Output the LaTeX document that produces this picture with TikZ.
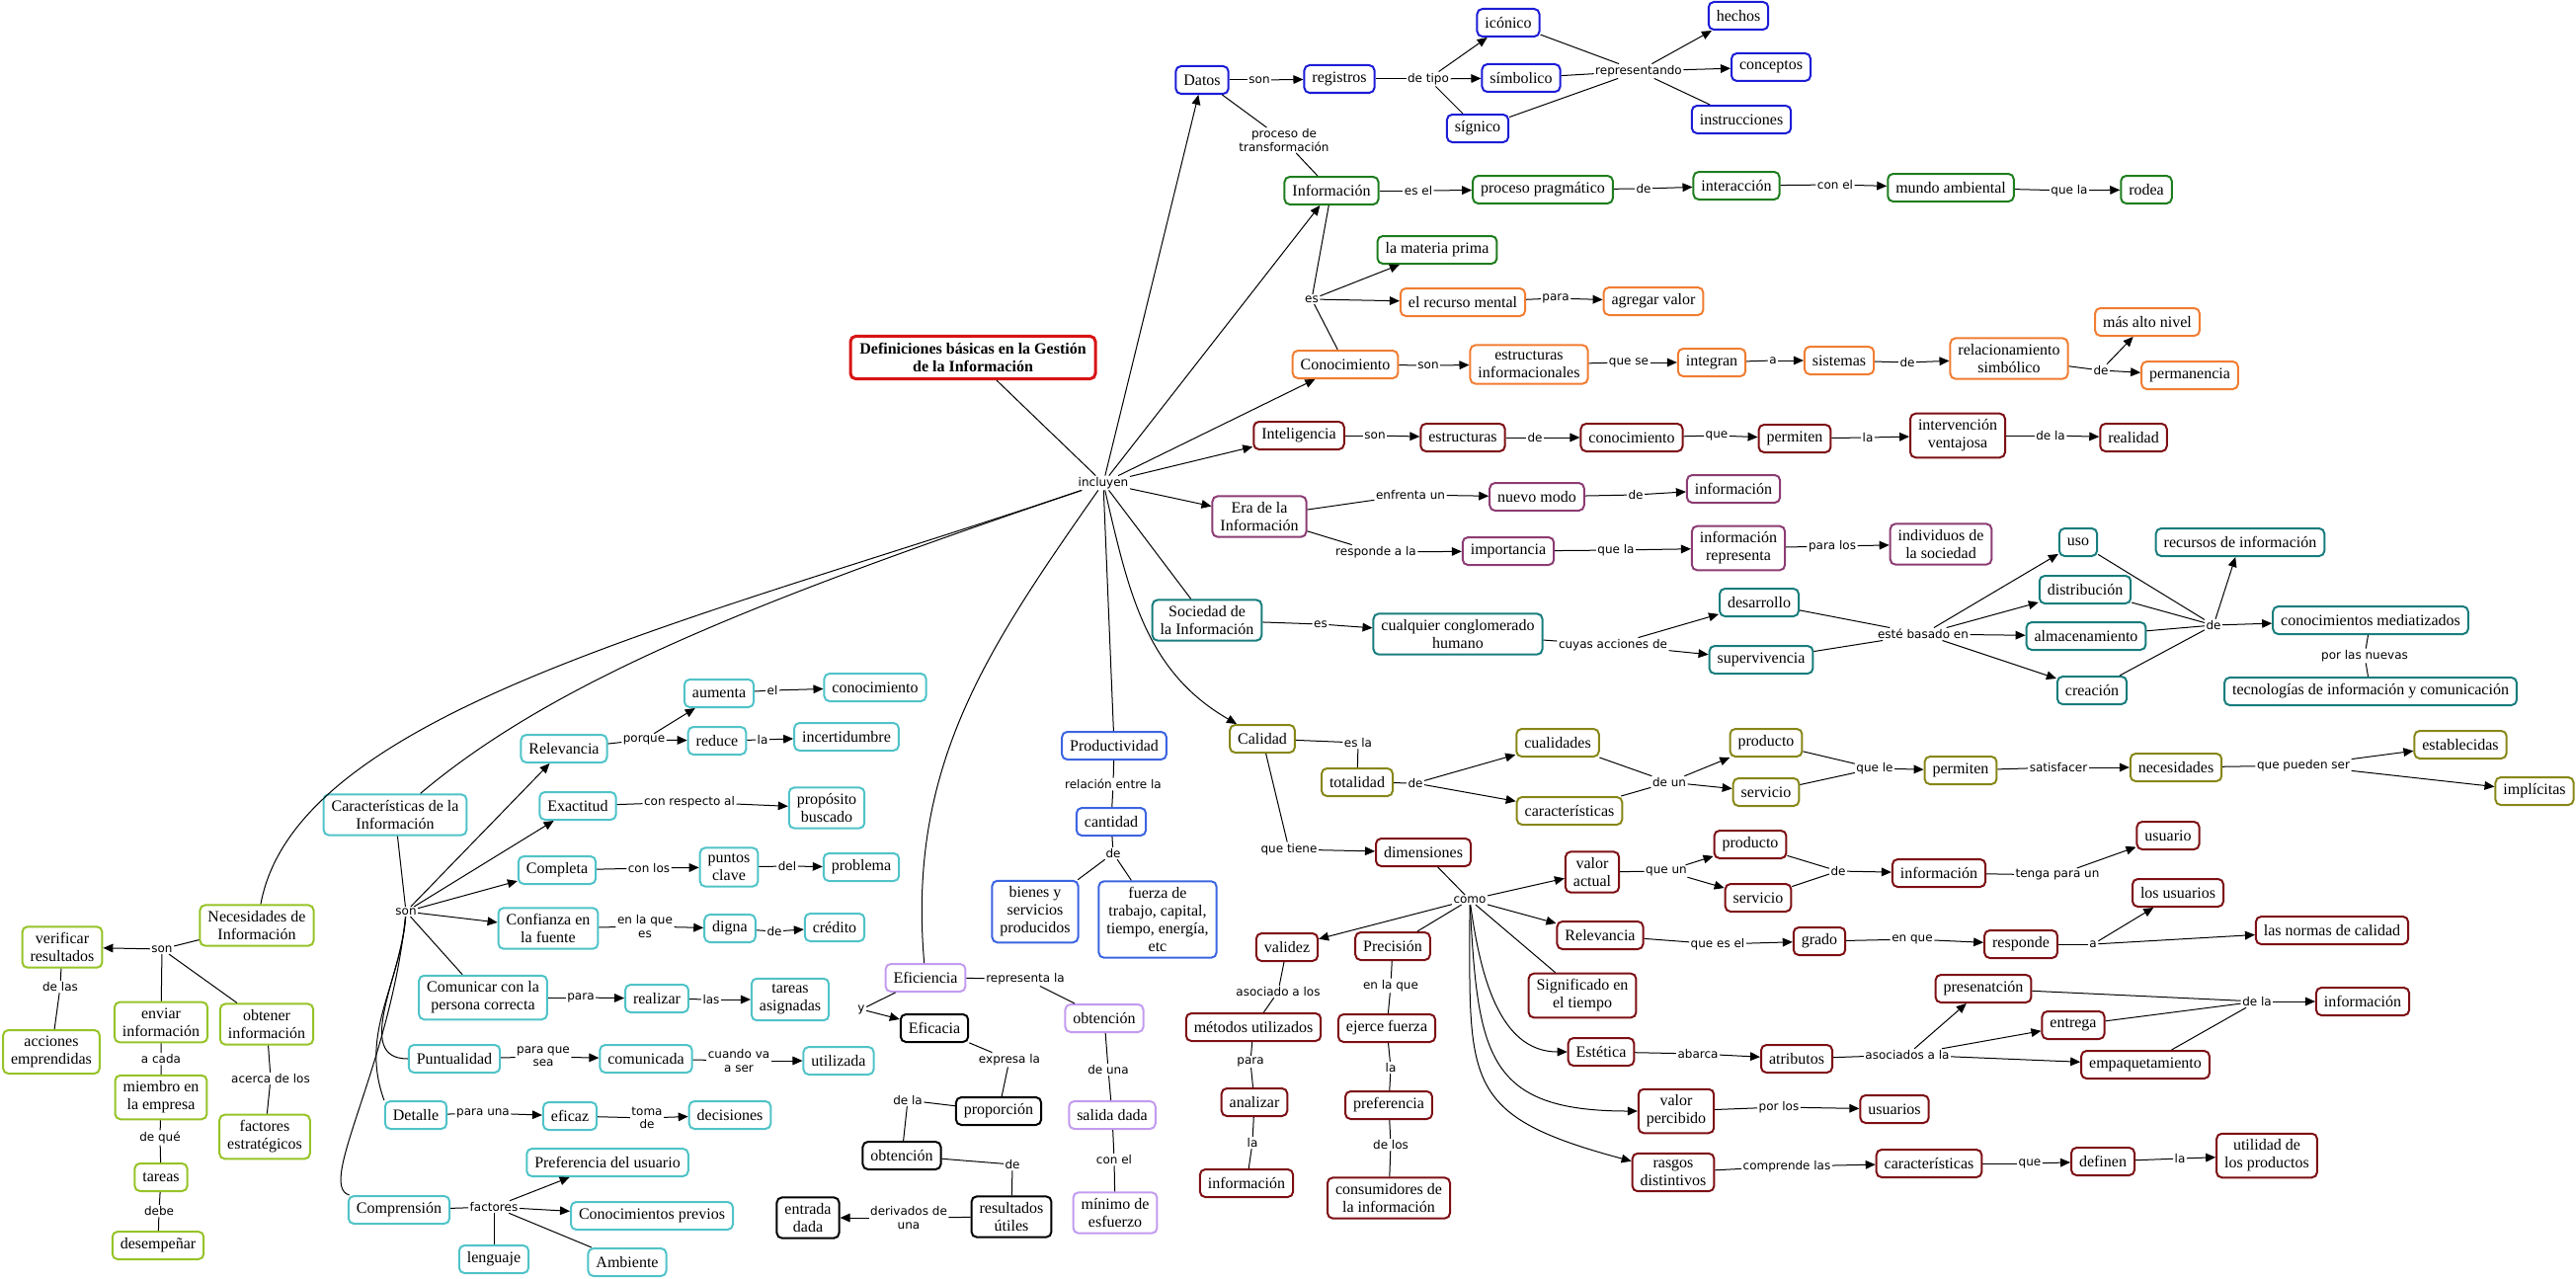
\documentclass[tikz,border=0pt]{standalone}
\usepackage{fontspec}
\setmainfont{Liberation Serif}
\newfontfamily\linkfont{DejaVu Sans}
\usepackage{xcolor}
\usepackage{tikz}
\usetikzlibrary{arrows.meta}

\definecolor{cTitle}{RGB}{215,20,20}
\definecolor{cBlue}{RGB}{28,28,214}
\definecolor{cGreen}{RGB}{30,125,30}
\definecolor{cOrange}{RGB}{240,125,50}
\definecolor{cMaroon}{RGB}{125,15,20}
\definecolor{cPlum}{RGB}{140,60,115}
\definecolor{cTeal}{RGB}{25,125,125}
\definecolor{cOlive}{RGB}{135,135,25}
\definecolor{cCyan}{RGB}{80,195,200}
\definecolor{cLime}{RGB}{150,195,40}
\definecolor{cRoyal}{RGB}{60,100,225}
\definecolor{cLav}{RGB}{195,155,240}

\begin{document}
\begin{tikzpicture}[x=0.75pt, y=-0.75pt,
  cmap/.style={draw=#1, line width=1.5pt, rounded corners=4pt, align=center,
    inner xsep=6pt, inner ysep=4.5pt, minimum height=21pt, font=\fontsize{12}{13.5}\selectfont},
  lnk/.style={inner sep=1pt, align=center, font=\linkfont\fontsize{9}{10}\selectfont},
  lin/.style={line width=0.75pt},
  arr/.style={line width=0.75pt, -{Triangle[length=7.5pt,width=6.5pt]}}]
  \useasboundingbox (0,0) rectangle (2608,1295);

  \node[cmap=cTitle, line width=2.25pt, inner xsep=7pt, inner ysep=5pt,
    font=\bfseries\fontsize{12}{13.75}\selectfont] (titulo) at (985,362)
    {Definiciones básicas en la Gestión\\de la Información};
  \node[lnk] (incluyen) at (1117,489) {incluyen};

  \node[cmap=cBlue] (datos) at (1217,81) {Datos};
  \node[lnk] (dSon) at (1275,81) {son};
  \node[cmap=cBlue] (registros) at (1356,80) {registros};
  \node[lnk] (dTipo) at (1446,80) {de tipo};
  \node[cmap=cBlue] (iconico) at (1527,23) {icónico};
  \node[cmap=cBlue] (simbolico) at (1540,79) {símbolico};
  \node[cmap=cBlue] (signico) at (1496,130) {sígnico};
  \node[lnk] (dRepr) at (1659,72) {representando};
  \node[cmap=cBlue] (hechos) at (1760,16) {hechos};
  \node[cmap=cBlue] (conceptos) at (1793,68) {conceptos};
  \node[cmap=cBlue] (instruc) at (1763,121) {instrucciones};
  \node[lnk] (dProc) at (1300,142) {proceso de\\transformación};

  \node[cmap=cGreen] (informacion) at (1348,193) {Información};
  \node[lnk] (iEsEl) at (1436,193) {es el};
  \node[cmap=cGreen] (pragmatico) at (1562,192) {proceso pragmático};
  \node[lnk] (iDe) at (1664,191) {de};
  \node[cmap=cGreen] (interaccion) at (1758,188) {interacción};
  \node[lnk] (iConEl) at (1858,187) {con el};
  \node[cmap=cGreen] (mundo) at (1975,190) {mundo ambiental};
  \node[lnk] (iQueLa) at (2095,193) {que la};
  \node[cmap=cGreen] (rodea) at (2173,192) {rodea};
  \node[cmap=cGreen] (materia) at (1455,253) {la materia prima};

  \node[lnk] (cEs) at (1328,303) {es};
  \node[cmap=cOrange] (recurso) at (1481,306) {el recurso mental};
  \node[lnk] (cPara) at (1575,302) {para};
  \node[cmap=cOrange] (agregar) at (1674,305) {agregar valor};
  \node[cmap=cOrange] (conocimiento) at (1362,369) {Conocimiento};
  \node[lnk] (cSon) at (1446,370) {son};
  \node[cmap=cOrange] (estinf) at (1548,369) {estructuras\\informacionales};
  \node[lnk] (cQueSe) at (1649,367) {que se};
  \node[cmap=cOrange] (integran) at (1733,367) {integran};
  \node[lnk] (cA) at (1795,365) {a};
  \node[cmap=cOrange] (sistemas) at (1862,365) {sistemas};
  \node[lnk] (cDe) at (1931,367) {de};
  \node[cmap=cOrange] (relacion) at (2034,363) {relacionamiento\\simbólico};
  \node[lnk] (cDe2) at (2127,375) {de};
  \node[cmap=cOrange] (altonivel) at (2174,326) {más alto nivel};
  \node[cmap=cOrange] (permanencia) at (2217,380) {permanencia};

  \node[cmap=cMaroon] (inteligencia) at (1315,441) {Inteligencia};
  \node[lnk] (tSon) at (1392,441) {son};
  \node[cmap=cMaroon] (estructuras) at (1481,443) {estructuras};
  \node[lnk] (tDe) at (1554,443) {de};
  \node[cmap=cMaroon] (conoc2) at (1652,443) {conocimiento};
  \node[lnk] (tQue) at (1738,441) {que};
  \node[cmap=cMaroon] (permiten) at (1817,444) {permiten};
  \node[lnk] (tLa) at (1891,443) {la};
  \node[cmap=cMaroon] (intervencion) at (1982,441) {intervención\\ventajosa};
  \node[lnk] (tDeLa) at (2076,441) {de la};
  \node[cmap=cMaroon] (realidad) at (2160,443) {realidad};

  \node[cmap=cPlum] (era) at (1275,523) {Era de la\\Información};
  \node[lnk] (eEnfr) at (1428,501) {enfrenta un};
  \node[cmap=cPlum] (nuevo) at (1556,503) {nuevo modo};
  \node[lnk] (eDe) at (1656,501) {de};
  \node[cmap=cPlum] (info2) at (1755,495) {información};
  \node[lnk] (eResp) at (1393,559) {responde a la};
  \node[cmap=cPlum] (importancia) at (1527,558) {importancia};
  \node[lnk] (eQueLa) at (1636,557) {que la};
  \node[cmap=cPlum] (inforep) at (1760,555) {información\\representa};
  \node[lnk] (eParaLos) at (1855,553) {para los};
  \node[cmap=cPlum] (individuos) at (1965,551) {individuos de\\la sociedad};

  \node[cmap=cTeal] (sociedad) at (1222,628) {Sociedad de\\la Información};
  \node[lnk] (sEs) at (1337,632) {es};
  \node[cmap=cTeal] (conglomerado) at (1476,642) {cualquier conglomerado\\humano};
  \node[lnk] (sCuyas) at (1633,653) {cuyas acciones de};
  \node[cmap=cTeal] (desarrollo) at (1781,610) {desarrollo};
  \node[cmap=cTeal] (supervivencia) at (1783,668) {supervivencia};
  \node[lnk] (sBasado) at (1947,642) {esté basado en};
  \node[cmap=cTeal] (uso) at (2104,549) {uso};
  \node[cmap=cTeal] (distribucion) at (2111,597) {distribución};
  \node[cmap=cTeal] (almacen) at (2112,644) {almacenamiento};
  \node[cmap=cTeal] (creacion) at (2118,699) {creación};
  \node[lnk] (sDe) at (2241,633) {de};
  \node[cmap=cTeal] (recursos) at (2268,549) {recursos de información};
  \node[cmap=cTeal] (mediatizados) at (2400,628) {conocimientos mediatizados};
  \node[lnk] (sPorLas) at (2394,664) {por las nuevas};
  \node[cmap=cTeal] (tic) at (2400,700) {tecnologías de información y comunicación};

  \node[cmap=cOlive] (calidad) at (1278,748) {Calidad};
  \node[lnk] (qEsLa) at (1375,752) {es la};
  \node[cmap=cOlive] (totalidad) at (1374,792) {totalidad};
  \node[lnk] (qDe) at (1433,793) {de};
  \node[cmap=cOlive] (cualidades) at (1577,752) {cualidades};
  \node[cmap=cOlive] (caracter) at (1589,821) {características};
  \node[lnk] (qDeUn) at (1690,792) {de un};
  \node[cmap=cOlive] (productoQ) at (1788,752) {producto};
  \node[cmap=cOlive] (servicioQ) at (1788,802) {servicio};
  \node[lnk] (qQueLe) at (1898,778) {que le};
  \node[cmap=cOlive] (permitenQ) at (1985,780) {permiten};
  \node[lnk] (qSatis) at (2084,777) {satisfacer};
  \node[cmap=cOlive] (necesidades) at (2203,777) {necesidades};
  \node[lnk] (qPueden) at (2332,775) {que pueden ser};
  \node[cmap=cOlive] (establecidas) at (2491,754) {establecidas};
  \node[cmap=cOlive] (implicitas) at (2566,801) {implícitas};

  \node[lnk] (qQueTiene) at (1305,860) {que tiene};
  \node[cmap=cMaroon] (dimensiones) at (1441,863) {dimensiones};
  \node[lnk] (mComo) at (1488,911) {como};
  \node[cmap=cMaroon] (valactual) at (1612,883) {valor\\actual};
  \node[lnk] (mQueUn) at (1687,882) {que un};
  \node[cmap=cMaroon] (productoM) at (1772,855) {producto};
  \node[cmap=cMaroon] (servicioM) at (1780,909) {servicio};
  \node[lnk] (mDe) at (1861,882) {de};
  \node[cmap=cMaroon] (info3) at (1963,884) {información};
  \node[lnk] (mTenga) at (2083,886) {tenga para un};
  \node[cmap=cMaroon] (usuario) at (2195,846) {usuario};
  \node[cmap=cMaroon] (relevM) at (1620,947) {Relevancia};
  \node[lnk] (mQueEs) at (1739,956) {que es el};
  \node[cmap=cMaroon] (grado) at (1842,953) {grado};
  \node[lnk] (mEnQue) at (1936,951) {en que};
  \node[cmap=cMaroon] (responde) at (2046,956) {responde};
  \node[lnk] (mA) at (2119,956) {a};
  \node[cmap=cMaroon] (losusuarios) at (2205,904) {los usuarios};
  \node[cmap=cMaroon] (normas) at (2361,942) {las normas de calidad};
  \node[cmap=cMaroon] (significado) at (1602,1008) {Significado en\\el tiempo};
  \node[cmap=cMaroon] (validez) at (1303,959) {validez};
  \node[cmap=cMaroon] (precision) at (1410,958) {Precisión};
  \node[lnk] (mAsoc) at (1294,1004) {asociado a los};
  \node[cmap=cMaroon] (metodos) at (1269,1040) {métodos utilizados};
  \node[lnk] (mEnLaQue) at (1408,998) {en la que};
  \node[cmap=cMaroon] (ejerce) at (1404,1041) {ejerce fuerza};
  \node[cmap=cMaroon] (estetica) at (1621,1065) {Estética};
  \node[lnk] (mAbarca) at (1719,1067) {abarca};
  \node[cmap=cMaroon] (atributos) at (1819,1072) {atributos};
  \node[lnk] (mAsocLa) at (1931,1068) {asociados a la};
  \node[cmap=cMaroon] (presentacion) at (2008,1001) {presenatción};
  \node[lnk] (mDeLa) at (2285,1014) {de la};
  \node[cmap=cMaroon] (info4) at (2392,1014) {información};
  \node[cmap=cMaroon] (entrega) at (2099,1038) {entrega};
  \node[cmap=cMaroon] (empaque) at (2172,1078) {empaquetamiento};
  \node[lnk] (mPara) at (1266,1075) {para};
  \node[lnk] (mLa) at (1408,1081) {la};
  \node[cmap=cMaroon] (analizar) at (1270,1116) {analizar};
  \node[cmap=cMaroon] (preferencia) at (1406,1119) {preferencia};
  \node[cmap=cMaroon] (valpercibido) at (1697,1125) {valor\\percibido};
  \node[lnk] (mPorLos) at (1801,1121) {por los};
  \node[cmap=cMaroon] (usuarios) at (1918,1123) {usuarios};
  \node[lnk] (mLa2) at (1268,1157) {la};
  \node[lnk] (mDeLos) at (1408,1159) {de los};
  \node[cmap=cMaroon] (info5) at (1262,1198) {información};
  \node[cmap=cMaroon] (consumidores) at (1406,1213) {consumidores de\\la información};
  \node[cmap=cMaroon] (rasgos) at (1694,1187) {rasgos\\distintivos};
  \node[lnk] (mCompr) at (1809,1181) {comprende las};
  \node[cmap=cMaroon] (caract2) at (1953,1178) {características};
  \node[lnk] (mQue) at (2055,1178) {que};
  \node[cmap=cMaroon] (definen) at (2129,1176) {definen};
  \node[lnk] (mLa3) at (2207,1173) {la};
  \node[cmap=cMaroon] (utilidad) at (2295,1170) {utilidad de\\los productos};

  \node[cmap=cCyan] (caracinfo) at (400,825) {Características de la\\Información};
  \node[lnk] (kSon) at (411,923) {son};
  \node[cmap=cCyan] (relevK) at (571,758) {Relevancia};
  \node[lnk] (kPorque) at (652,749) {porque};
  \node[cmap=cCyan] (aumenta) at (728,702) {aumenta};
  \node[lnk] (kEl) at (782,699) {el};
  \node[cmap=cCyan] (conoc3) at (886,696) {conocimiento};
  \node[cmap=cCyan] (reduce) at (726,750) {reduce};
  \node[lnk] (kLa) at (772,749) {la};
  \node[cmap=cCyan] (incert) at (857,746) {incertidumbre};
  \node[cmap=cCyan] (exactitud) at (585,816) {Exactitud};
  \node[lnk] (kConResp) at (698,812) {con respecto al};
  \node[cmap=cCyan] (proposito) at (837,818) {propósito\\buscado};
  \node[cmap=cCyan] (completa) at (564,881) {Completa};
  \node[lnk] (kConLos) at (657,879) {con los};
  \node[cmap=cCyan] (puntos) at (738,878) {puntos\\clave};
  \node[lnk] (kDel) at (797,877) {del};
  \node[cmap=cCyan] (problema) at (872,878) {problema};
  \node[cmap=cCyan] (confianza) at (555,940) {Confianza en\\la fuente};
  \node[lnk] (kEnLaQue) at (653,938) {en la que\\es};
  \node[cmap=cCyan] (digna) at (739,940) {digna};
  \node[lnk] (kDe) at (784,943) {de};
  \node[cmap=cCyan] (credito) at (845,939) {crédito};
  \node[cmap=cCyan] (comunicar) at (489,1010) {Comunicar con la\\persona correcta};
  \node[lnk] (kPara) at (588,1010) {para};
  \node[cmap=cCyan] (realizar) at (665,1011) {realizar};
  \node[lnk] (kLas) at (720,1012) {las};
  \node[cmap=cCyan] (tareasasig) at (800,1012) {tareas\\asignadas};
  \node[cmap=cCyan] (puntualidad) at (460,1072) {Puntualidad};
  \node[lnk] (kParaQue) at (550,1070) {para que\\sea};
  \node[cmap=cCyan] (comunicada) at (654,1072) {comunicada};
  \node[lnk] (kCuando) at (748,1074) {cuando va\\a ser};
  \node[cmap=cCyan] (utilizada) at (849,1074) {utilizada};
  \node[cmap=cCyan] (detalle) at (421,1129) {Detalle};
  \node[lnk] (kParaUna) at (489,1127) {para una};
  \node[cmap=cCyan] (eficaz) at (577,1130) {eficaz};
  \node[lnk] (kToma) at (655,1132) {toma\\de};
  \node[cmap=cCyan] (decisiones) at (739,1129) {decisiones};
  \node[cmap=cCyan] (prefusuario) at (615,1177) {Preferencia del usuario};
  \node[cmap=cCyan] (comprension) at (404,1225) {Comprensión};
  \node[lnk] (kFactores) at (500,1222) {factores};
  \node[cmap=cCyan] (conprevios) at (660,1231) {Conocimientos previos};
  \node[cmap=cCyan] (lenguaje) at (500,1275) {lenguaje};
  \node[cmap=cCyan] (ambiente) at (635,1278) {Ambiente};

  \node[cmap=cLime] (necinfo) at (260,937) {Necesidades de\\Información};
  \node[lnk] (nSon) at (164,961) {son};
  \node[cmap=cLime] (verificar) at (63,959) {verificar\\resultados};
  \node[lnk] (nDeLas) at (61,999) {de las};
  \node[cmap=cLime] (acciones) at (52,1065) {acciones\\emprendidas};
  \node[cmap=cLime] (enviar) at (163,1035) {enviar\\información};
  \node[cmap=cLime] (obtener) at (270,1037) {obtener\\información};
  \node[lnk] (nACada) at (163,1072) {a cada};
  \node[cmap=cLime] (miembro) at (163,1111) {miembro en\\la empresa};
  \node[lnk] (nAcerca) at (274,1092) {acerca de los};
  \node[cmap=cLime] (factores) at (268,1151) {factores\\estratégicos};
  \node[lnk] (nDeQue) at (162,1152) {de qué};
  \node[cmap=cLime] (tareas) at (163,1192) {tareas};
  \node[lnk] (nDebe) at (161,1226) {debe};
  \node[cmap=cLime] (desempenar) at (160,1261) {desempeñar};

  \node[cmap=cRoyal] (productividad) at (1128,755) {Productividad};
  \node[lnk] (pRelacion) at (1127,794) {relación entre la};
  \node[cmap=cRoyal] (cantidad) at (1125,832) {cantidad};
  \node[lnk] (pDe) at (1127,864) {de};
  \node[cmap=cRoyal] (bienes) at (1048,923) {bienes y\\servicios\\producidos};
  \node[cmap=cRoyal] (fuerza) at (1172,931) {fuerza de\\trabajo, capital,\\tiempo, energía,\\etc};

  \node[cmap=cLav] (eficiencia) at (937,990) {Eficiencia};
  \node[lnk] (fRepresenta) at (1038,991) {representa la};
  \node[cmap=cLav] (obtencion) at (1118,1031) {obtención};
  \node[lnk] (fDeUna) at (1122,1083) {de una};
  \node[cmap=cLav] (salida) at (1126,1129) {salida dada};
  \node[lnk] (fConEl) at (1128,1174) {con el};
  \node[cmap=cLav] (minimo) at (1129,1228) {mínimo de\\esfuerzo};
  \node[lnk] (fY) at (872,1022) {y};
  \node[cmap=black] (eficacia) at (946,1041) {Eficacia};
  \node[lnk] (fExpresa) at (1022,1073) {expresa la};
  \node[cmap=black] (proporcion) at (1011,1125) {proporción};
  \node[lnk] (fDeLa) at (919,1114) {de la};
  \node[cmap=black] (obtencion2) at (913,1170) {obtención};
  \node[lnk] (fDe) at (1025,1179) {de};
  \node[cmap=black] (resultados) at (1024,1232) {resultados\\útiles};
  \node[lnk] (fDerivados) at (920,1233) {derivados de\\una};
  \node[cmap=black] (entrada) at (818,1233) {entrada\\dada};

  \draw[lin] (titulo) -- (incluyen);
  \draw[arr] (incluyen) -- (datos);
  \draw[arr] (incluyen) -- (informacion);
  \draw[arr] (incluyen) -- (conocimiento);
  \draw[arr] (incluyen) -- (inteligencia);
  \draw[arr] (incluyen) -- (era);
  \draw[lin] (incluyen) -- (sociedad);
  \draw[arr] (incluyen) to[out=-77, in=150] (calidad);
  \draw[lin] (incluyen) -- (productividad);
  \draw[lin] (incluyen) to[out=-125, in=95] (eficiencia);
  \draw[lin] (incluyen) .. controls (760,610) and (560,690) .. (caracinfo);
  \draw[lin] (incluyen) .. controls (700,630) and (300,720) .. (necinfo);

  \draw[lin] (datos) -- (dSon); \draw[arr] (dSon) -- (registros);
  \draw[lin] (registros) -- (dTipo);
  \draw[arr] (dTipo) -- (iconico); \draw[arr] (dTipo) -- (simbolico); \draw[lin] (dTipo) -- (signico);
  \draw[lin] (iconico) -- (dRepr); \draw[lin] (simbolico) -- (dRepr); \draw[lin] (signico) -- (dRepr);
  \draw[arr] (dRepr) -- (hechos); \draw[arr] (dRepr) -- (conceptos); \draw[lin] (dRepr) -- (instruc);
  \draw[lin] (datos) -- (dProc) -- (informacion);

  \draw[lin] (informacion) -- (iEsEl); \draw[arr] (iEsEl) -- (pragmatico);
  \draw[lin] (pragmatico) -- (iDe); \draw[arr] (iDe) -- (interaccion);
  \draw[lin] (interaccion) -- (iConEl); \draw[arr] (iConEl) -- (mundo);
  \draw[lin] (mundo) -- (iQueLa); \draw[arr] (iQueLa) -- (rodea);
  \draw[lin] (informacion) -- (cEs); \draw[lin] (conocimiento) -- (cEs);
  \draw[arr] (cEs) -- (materia); \draw[arr] (cEs) -- (recurso);
  \draw[lin] (recurso) -- (cPara); \draw[arr] (cPara) -- (agregar);

  \draw[lin] (conocimiento) -- (cSon); \draw[arr] (cSon) -- (estinf);
  \draw[lin] (estinf) -- (cQueSe); \draw[arr] (cQueSe) -- (integran);
  \draw[lin] (integran) -- (cA); \draw[arr] (cA) -- (sistemas);
  \draw[lin] (sistemas) -- (cDe); \draw[arr] (cDe) -- (relacion);
  \draw[lin] (relacion) -- (cDe2); \draw[arr] (cDe2) -- (altonivel); \draw[arr] (cDe2) -- (permanencia);

  \draw[lin] (inteligencia) -- (tSon); \draw[arr] (tSon) -- (estructuras);
  \draw[lin] (estructuras) -- (tDe); \draw[arr] (tDe) -- (conoc2);
  \draw[lin] (conoc2) -- (tQue); \draw[arr] (tQue) -- (permiten);
  \draw[lin] (permiten) -- (tLa); \draw[arr] (tLa) -- (intervencion);
  \draw[lin] (intervencion) -- (tDeLa); \draw[arr] (tDeLa) -- (realidad);

  \draw[lin] (era) -- (eEnfr); \draw[arr] (eEnfr) -- (nuevo);
  \draw[lin] (nuevo) -- (eDe); \draw[arr] (eDe) -- (info2);
  \draw[lin] (era) -- (eResp); \draw[arr] (eResp) -- (importancia);
  \draw[lin] (importancia) -- (eQueLa); \draw[arr] (eQueLa) -- (inforep);
  \draw[lin] (inforep) -- (eParaLos); \draw[arr] (eParaLos) -- (individuos);

  \draw[lin] (sociedad) -- (sEs); \draw[arr] (sEs) -- (conglomerado);
  \draw[lin] (conglomerado) -- (sCuyas); \draw[arr] (sCuyas) -- (desarrollo); \draw[arr] (sCuyas) -- (supervivencia);
  \draw[lin] (desarrollo) -- (sBasado); \draw[lin] (supervivencia) -- (sBasado);
  \draw[arr] (sBasado) -- (uso); \draw[arr] (sBasado) -- (distribucion);
  \draw[arr] (sBasado) -- (almacen); \draw[arr] (sBasado) -- (creacion);
  \draw[lin] (uso) -- (sDe); \draw[lin] (distribucion) -- (sDe);
  \draw[lin] (almacen) -- (sDe); \draw[lin] (creacion) -- (sDe);
  \draw[arr] (sDe) -- (recursos); \draw[arr] (sDe) -- (mediatizados);
  \draw[lin] (mediatizados) -- (sPorLas) -- (tic);

  \draw[lin] (calidad) -- (qEsLa) -- (totalidad);
  \draw[lin] (totalidad) -- (qDe); \draw[arr] (qDe) -- (cualidades); \draw[arr] (qDe) -- (caracter);
  \draw[lin] (cualidades) -- (qDeUn); \draw[lin] (caracter) -- (qDeUn);
  \draw[arr] (qDeUn) -- (productoQ); \draw[arr] (qDeUn) -- (servicioQ);
  \draw[lin] (productoQ) -- (qQueLe); \draw[lin] (servicioQ) -- (qQueLe); \draw[arr] (qQueLe) -- (permitenQ);
  \draw[lin] (permitenQ) -- (qSatis); \draw[arr] (qSatis) -- (necesidades);
  \draw[lin] (necesidades) -- (qPueden); \draw[arr] (qPueden) -- (establecidas); \draw[arr] (qPueden) -- (implicitas);
  \draw[lin] (calidad) -- (qQueTiene); \draw[arr] (qQueTiene) -- (dimensiones);

  \draw[lin] (dimensiones) -- (mComo);
  \draw[arr] (mComo) -- (valactual); \draw[arr] (mComo) -- (relevM); \draw[arr] (mComo) -- (validez);
  \draw[lin] (mComo) -- (precision); \draw[lin] (mComo) -- (significado);
  \draw[arr] (mComo) to[out=-82, in=180] (estetica);
  \draw[arr] (mComo) to[out=-87, in=180, looseness=1.45] (valpercibido);
  \draw[arr] (mComo) to[out=-90, in=165, looseness=1.5] (rasgos);
  \draw[lin] (valactual) -- (mQueUn); \draw[arr] (mQueUn) -- (productoM); \draw[arr] (mQueUn) -- (servicioM);
  \draw[lin] (productoM) -- (mDe); \draw[lin] (servicioM) -- (mDe); \draw[arr] (mDe) -- (info3);
  \draw[lin] (info3) -- (mTenga); \draw[arr] (mTenga) -- (usuario);
  \draw[lin] (relevM) -- (mQueEs); \draw[arr] (mQueEs) -- (grado);
  \draw[lin] (grado) -- (mEnQue); \draw[arr] (mEnQue) -- (responde);
  \draw[lin] (responde) -- (mA); \draw[arr] (mA) -- (losusuarios); \draw[arr] (mA) -- (normas);
  \draw[lin] (validez) -- (mAsoc) -- (metodos) -- (mPara) -- (analizar) -- (mLa2) -- (info5);
  \draw[lin] (precision) -- (mEnLaQue) -- (ejerce) -- (mLa) -- (preferencia) -- (mDeLos) -- (consumidores);
  \draw[lin] (estetica) -- (mAbarca); \draw[arr] (mAbarca) -- (atributos);
  \draw[lin] (atributos) -- (mAsocLa);
  \draw[arr] (mAsocLa) -- (presentacion); \draw[arr] (mAsocLa) -- (entrega); \draw[arr] (mAsocLa) -- (empaque);
  \draw[lin] (presentacion) -- (mDeLa); \draw[lin] (entrega) -- (mDeLa); \draw[lin] (empaque) -- (mDeLa);
  \draw[arr] (mDeLa) -- (info4);
  \draw[lin] (valpercibido) -- (mPorLos); \draw[arr] (mPorLos) -- (usuarios);
  \draw[lin] (rasgos) -- (mCompr); \draw[arr] (mCompr) -- (caract2);
  \draw[lin] (caract2) -- (mQue); \draw[arr] (mQue) -- (definen);
  \draw[lin] (definen) -- (mLa3); \draw[arr] (mLa3) -- (utilidad);

  \draw[lin] (caracinfo) -- (kSon);
  \draw[arr] (kSon) -- (relevK); \draw[arr] (kSon) -- (exactitud);
  \draw[arr] (kSon) -- (completa); \draw[arr] (kSon) -- (confianza);
  \draw[lin] (kSon) -- (comunicar);
  \draw[lin] (kSon) to[out=-93, in=180] (puntualidad.west);
  \draw[lin] (kSon) to[out=-95, in=110] (detalle.north west);
  \draw[lin] (kSon) .. controls (395,1080) and (320,1200) .. (comprension);
  \draw[lin] (relevK) -- (kPorque); \draw[arr] (kPorque) -- (aumenta); \draw[arr] (kPorque) -- (reduce);
  \draw[lin] (aumenta) -- (kEl); \draw[arr] (kEl) -- (conoc3);
  \draw[lin] (reduce) -- (kLa); \draw[arr] (kLa) -- (incert);
  \draw[lin] (exactitud) -- (kConResp); \draw[arr] (kConResp) -- (proposito);
  \draw[lin] (completa) -- (kConLos); \draw[arr] (kConLos) -- (puntos);
  \draw[lin] (puntos) -- (kDel); \draw[arr] (kDel) -- (problema);
  \draw[lin] (confianza) -- (kEnLaQue); \draw[arr] (kEnLaQue) -- (digna);
  \draw[lin] (digna) -- (kDe); \draw[arr] (kDe) -- (credito);
  \draw[lin] (comunicar) -- (kPara); \draw[arr] (kPara) -- (realizar);
  \draw[lin] (realizar) -- (kLas); \draw[arr] (kLas) -- (tareasasig);
  \draw[lin] (puntualidad) -- (kParaQue); \draw[arr] (kParaQue) -- (comunicada);
  \draw[lin] (comunicada) -- (kCuando); \draw[arr] (kCuando) -- (utilizada);
  \draw[lin] (detalle) -- (kParaUna); \draw[arr] (kParaUna) -- (eficaz);
  \draw[lin] (eficaz) -- (kToma); \draw[arr] (kToma) -- (decisiones);
  \draw[lin] (comprension) -- (kFactores);
  \draw[arr] (kFactores) -- (prefusuario); \draw[arr] (kFactores) -- (conprevios);
  \draw[lin] (kFactores) -- (lenguaje); \draw[lin] (kFactores) -- (ambiente);

  \draw[lin] (necinfo) -- (nSon); \draw[arr] (nSon) -- (verificar);
  \draw[lin] (nSon) -- (enviar); \draw[lin] (nSon) -- (obtener);
  \draw[lin] (verificar) -- (nDeLas) -- (acciones);
  \draw[lin] (enviar) -- (nACada) -- (miembro) -- (nDeQue) -- (tareas) -- (nDebe) -- (desempenar);
  \draw[lin] (obtener) -- (nAcerca) -- (factores);

  \draw[lin] (productividad) -- (pRelacion) -- (cantidad) -- (pDe);
  \draw[lin] (pDe) -- (bienes); \draw[lin] (pDe) -- (fuerza);
  \draw[lin] (eficiencia) -- (fRepresenta) -- (obtencion) -- (fDeUna) -- (salida) -- (fConEl) -- (minimo);
  \draw[lin] (eficiencia) -- (fY); \draw[arr] (fY) -- (eficacia);
  \draw[lin] (eficacia) -- (fExpresa) -- (proporcion) -- (fDeLa) -- (obtencion2) -- (fDe) -- (resultados) -- (fDerivados);
  \draw[arr] (fDerivados) -- (entrada);
\end{tikzpicture}
\end{document}
